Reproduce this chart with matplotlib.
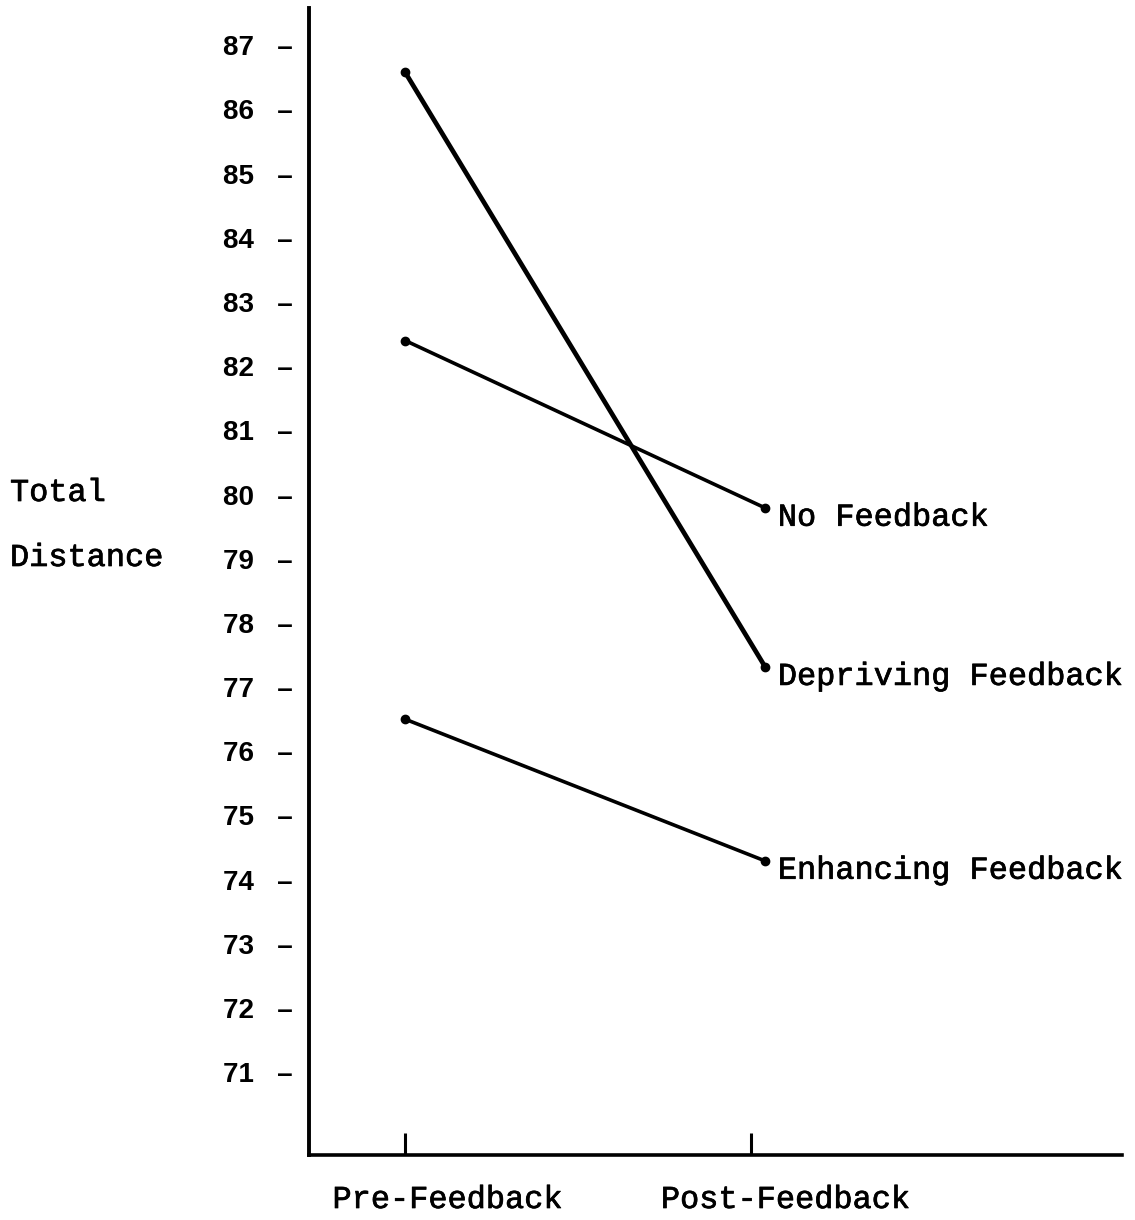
import matplotlib
matplotlib.use("Agg")
import matplotlib.pyplot as plt
import matplotlib.patheffects as pe

# values
phases = ["Pre-Feedback", "Post-Feedback"]
groups = ["No Feedback", "Depriving Feedback", "Enhancing Feedback"]
no_feedback = [82.40, 79.79]
depriving = [86.58, 77.31]
enhancing = [76.50, 74.29]
y_ticks = list(range(71, 88))

mono = "Liberation Mono"
heavy = [pe.withStroke(linewidth=0.5, foreground="black")]

fig = plt.figure(figsize=(11.35, 12.2), dpi=100)
ax = fig.add_axes([0.2722, 0.0533, 0.9885 - 0.2722, 0.9934 - 0.0533])

x = [1, 2]
series = [(no_feedback, 2.6), (depriving, 3.4), (enhancing, 2.6)]
for (vals, lw), name in zip(series, groups):
    ax.plot(x, vals, color="black", lw=lw, marker="o", ms=6, solid_capstyle="round")
    ax.annotate(name, xy=(x[1], vals[1]), xytext=(9, -7), textcoords="offset points",
                ha="left", va="center", fontsize=23, family=mono, path_effects=heavy)

ax.set_xlim(0.733, 2.99)
ax.set_ylim(69.71, 87.58)

for s in ["top", "right"]:
    ax.spines[s].set_visible(False)
ax.spines["left"].set_linewidth(2.8)
ax.spines["bottom"].set_linewidth(2.6)

ax.set_yticks(y_ticks)
ax.set_yticklabels([f"{v}   \u2013" for v in y_ticks], family="Liberation Sans",
                   fontweight="bold", fontsize=20)
ax.tick_params(axis="y", length=0, pad=12)

ax.set_xticks([1.0, 1.96])
ax.set_xticklabels([])
ax.tick_params(axis="x", direction="in", length=16, width=2.2)

fig.text(448 / 1135, 1 - 1200 / 1220, phases[0], ha="center", va="center",
         fontsize=23, family=mono, path_effects=heavy)
fig.text(786 / 1135, 1 - 1200 / 1220, phases[1], ha="center", va="center",
         fontsize=23, family=mono, path_effects=heavy)
fig.text(10 / 1135, 1 - 493 / 1220, "Total", ha="left", va="center",
         fontsize=23, family=mono, path_effects=heavy)
fig.text(10 / 1135, 1 - 558 / 1220, "Distance", ha="left", va="center",
         fontsize=23, family=mono, path_effects=heavy)

fig.savefig("out.png", dpi=100)
